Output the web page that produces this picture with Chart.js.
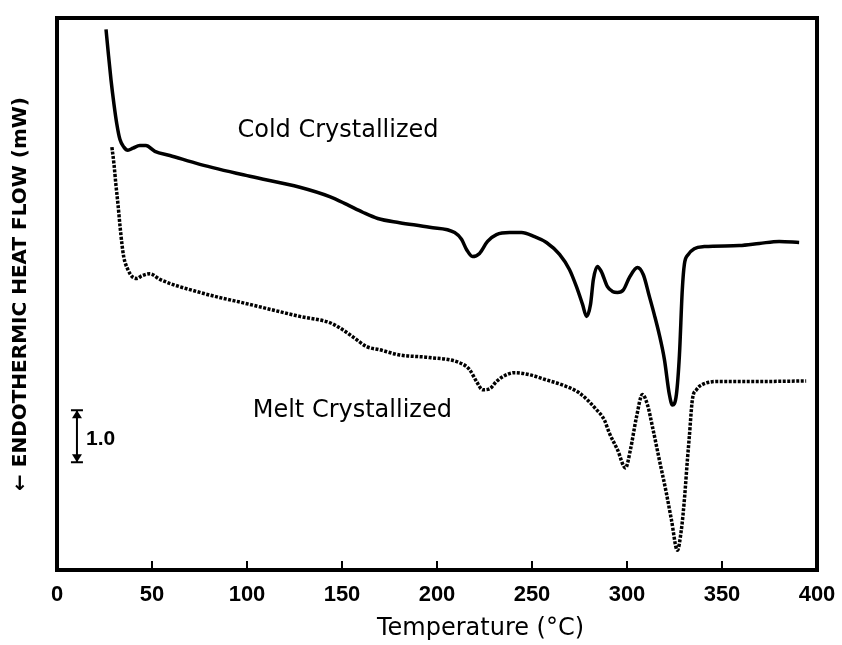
<!DOCTYPE html>
<html>
<head>
<meta charset="utf-8">
<script src="https://cdn.jsdelivr.net/npm/chart.js@4.4.1/dist/chart.umd.min.js"></script>
<style>
  body { margin: 0; background: #fff; }
  #wrap { width: 842px; height: 645px; }
</style>
</head>
<body>
<div id="wrap"><canvas id="dscChart" width="842" height="645"></canvas></div>
<script>
// DSC heating scans: temperature (°C) vs heat flow (mW, curves offset)
const coldTemp = [25.8, 26.8, 28.4, 30.0, 31.5, 33.1, 35.2, 37.3, 40.0, 43.6, 46.8, 51.5, 59.4, 75.2,
  101.5, 127.8, 143.5, 152.5, 160.9, 168.8, 180.3, 196.1, 209.3, 212.9, 215.6, 218.7, 222.4, 226.6,
  231.3, 238.2, 244.5, 251.3, 257.6, 264.5, 269.7, 273.4, 276.6, 278.7, 280.8, 282.3, 284.4, 286.5,
  289.7, 292.3, 295.0, 298.1, 301.3, 305.5, 308.6, 311.8, 314.4, 317.0, 319.7, 322.3, 323.9, 326.0,
  327.6, 329.1, 330.2, 332.3, 335.4, 340.7, 359.1, 369.6, 380.1, 390.6];
const coldFlow = [10.38, 10.0, 9.42, 8.94, 8.56, 8.27, 8.12, 8.06, 8.10, 8.15, 8.15, 8.04, 7.96, 7.79,
  7.56, 7.35, 7.17, 7.02, 6.87, 6.75, 6.67, 6.58, 6.48, 6.35, 6.15, 6.02, 6.08, 6.31,
  6.44, 6.48, 6.48, 6.40, 6.29, 6.06, 5.77, 5.44, 5.10, 4.87, 5.10, 5.58, 5.83, 5.73,
  5.44, 5.35, 5.33, 5.38, 5.62, 5.81, 5.67, 5.25, 4.90, 4.52, 4.04, 3.37, 3.17, 3.37,
  4.13, 5.38, 5.87, 6.06, 6.17, 6.21, 6.23, 6.27, 6.31, 6.29];

const meltTemp = [28.9, 30.0, 31.0, 32.1, 33.1, 34.2, 35.2, 37.3, 40.0, 42.1, 44.7, 48.9, 54.2, 75.2,
  101.5, 127.8, 143.5, 148.8, 155.6, 163.0, 169.8, 180.3, 196.1, 211.9, 217.1, 220.8, 224.0, 227.7,
  231.3, 235.5, 240.8, 248.7, 257.6, 265.5, 274.9, 283.9, 288.1, 290.7, 295.0, 299.2, 301.8, 305.0,
  308.1, 310.8, 313.4, 317.0, 320.7, 323.4, 326.5, 328.6, 330.2, 331.8, 332.8, 334.4, 336.5, 339.6,
  348.6, 369.6, 394.3];
const meltFlow = [8.12, 7.79, 7.40, 7.02, 6.63, 6.25, 6.00, 5.77, 5.62, 5.60, 5.65, 5.69, 5.58, 5.33,
  5.10, 4.87, 4.75, 4.65, 4.48, 4.29, 4.23, 4.13, 4.08, 3.98, 3.85, 3.62, 3.46, 3.48,
  3.62, 3.73, 3.79, 3.75, 3.65, 3.56, 3.40, 3.08, 2.88, 2.63, 2.31, 1.96, 2.31, 2.94,
  3.37, 3.17, 2.75, 2.12, 1.48, 0.96, 0.38, 0.77, 1.35, 2.12, 2.56, 3.27, 3.46, 3.56,
  3.62, 3.62, 3.63];

const tempTicks = [0, 50, 100, 150, 200, 250, 300, 350, 400];
const scaleBarSize = 1.0; // mW

function toPoints(xs, ys) {
  return xs.map((t, i) => ({ x: t, y: ys[i] }));
}

// frame, inward ticks, the 1.0 mW bar and the text labels
const dressing = {
  id: 'dressing',
  afterDatasetsDraw(chart) {
    const { ctx, chartArea: a, scales: { x, y } } = chart;
    ctx.save();
    ctx.strokeStyle = '#000';
    ctx.fillStyle = '#000';

    ctx.lineWidth = 4;
    ctx.strokeRect(a.left, a.top, a.right - a.left, a.bottom - a.top);

    ctx.lineWidth = 2;
    tempTicks.forEach(t => {
      const px = x.getPixelForValue(t);
      ctx.beginPath();
      ctx.moveTo(px, a.bottom);
      ctx.lineTo(px, a.bottom - 9);
      ctx.stroke();
    });

    // scale bar
    const bx = x.getPixelForValue(10.5);
    const y0 = y.getPixelForValue(2.07);
    const y1 = y.getPixelForValue(2.07 + scaleBarSize);
    ctx.lineWidth = 2;
    ctx.beginPath();
    ctx.moveTo(bx, y0); ctx.lineTo(bx, y1);
    ctx.moveTo(bx - 6, y0); ctx.lineTo(bx + 6, y0);
    ctx.moveTo(bx - 6, y1); ctx.lineTo(bx + 6, y1);
    ctx.stroke();
    [[y1, 1], [y0, -1]].forEach(([py, d]) => {
      ctx.beginPath();
      ctx.moveTo(bx, py);
      ctx.lineTo(bx - 5, py + d * 8);
      ctx.lineTo(bx + 5, py + d * 8);
      ctx.closePath();
      ctx.fill();
    });

    ctx.textBaseline = 'middle';
    ctx.textAlign = 'left';
    ctx.font = 'bold 21px "Liberation Sans", Arial, sans-serif';
    ctx.fillText('1.0', x.getPixelForValue(15.3), y.getPixelForValue(2.52));

    ctx.font = '24px "DejaVu Sans", sans-serif';
    ctx.fillText('Cold Crystallized', x.getPixelForValue(95), y.getPixelForValue(8.43));
    ctx.fillText('Melt Crystallized', x.getPixelForValue(103), y.getPixelForValue(3.05));
    ctx.fillText('Temperature (°C)', x.getPixelForValue(168.4), a.bottom + 59);
    ctx.restore();
  }
};

new Chart(document.getElementById('dscChart'), {
  type: 'line',
  data: {
    datasets: [
      {
        label: 'Cold Crystallized',
        data: toPoints(coldTemp, coldFlow),
        borderColor: '#000',
        borderWidth: 3.5,
        pointRadius: 0,
        cubicInterpolationMode: 'monotone'
      },
      {
        label: 'Melt Crystallized',
        data: toPoints(meltTemp, meltFlow),
        borderColor: '#000',
        borderWidth: 3.5,
        borderDash: [3, 1.5],
        pointRadius: 0,
        cubicInterpolationMode: 'monotone'
      }
    ]
  },
  options: {
    responsive: false,
    animation: false,
    layout: { padding: { left: 0, right: 25, top: 18, bottom: 0 } },
    plugins: {
      legend: { display: false },
      tooltip: { enabled: false }
    },
    scales: {
      x: {
        type: 'linear',
        min: 0,
        max: 400,
        afterBuildTicks: s => { s.ticks = tempTicks.map(v => ({ value: v })); },
        afterFit: s => {
          s.height = 75;
          s.paddingLeft = 0;
          s.paddingRight = 0;
        },
        grid: { display: false, drawTicks: false },
        border: { display: false },
        ticks: {
          color: '#000',
          padding: 12,
          maxRotation: 0,
          font: { family: '"Liberation Sans", Arial, sans-serif', size: 22, weight: 'bold' }
        }
      },
      y: {
        type: 'linear',
        min: 0,
        max: 10.6,
        afterFit: s => { s.width = 57; },
        grid: { display: false, drawTicks: false },
        border: { display: false },
        ticks: { display: false },
        title: {
          display: true,
          text: '← ENDOTHERMIC HEAT FLOW (mW)',
          color: '#000',
          padding: { top: 9, bottom: 0 },
          font: { family: '"DejaVu Sans", sans-serif', size: 20, weight: 'bold' }
        }
      }
    }
  },
  plugins: [dressing]
});
</script>
</body>
</html>
